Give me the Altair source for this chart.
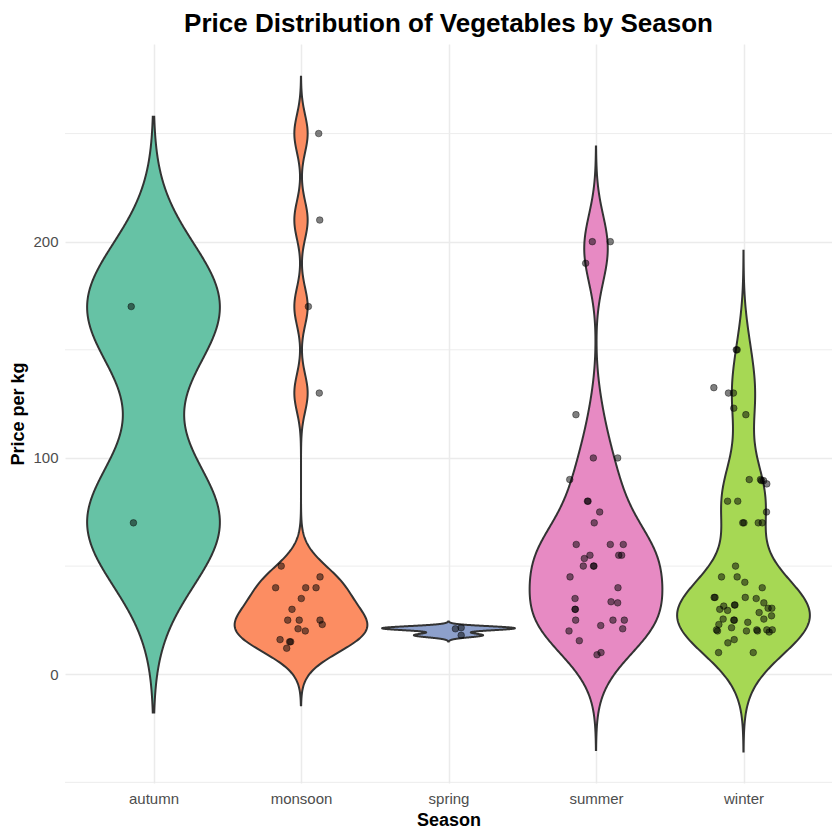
import altair as alt
import numpy as np
import pandas as pd

# ---------------- data ----------------
seasons = ["autumn", "monsoon", "spring", "summer", "winter"]
fill_colors = ["#66C2A5", "#FC8D62", "#8DA0CB", "#E78AC3", "#A6D854"]

autumn_price = [170, 70]
autumn_jitter = [-0.151, -0.136]

monsoon_price = [250, 210, 170, 130, 50, 45, 40, 40, 40, 35, 30, 25, 25, 25,
                 23, 21, 20, 16, 15, 15, 12]
monsoon_jitter = [0.12, 0.127, 0.05, 0.124, -0.134, 0.129, -0.172, 0.032, 0.102,
                  0.002, -0.061, -0.09, -0.012, 0.129, 0.144, -0.02, 0.029,
                  -0.142, -0.07, -0.077, -0.097]

spring_price = [21, 21.5, 18]
spring_jitter = [0.047, 0.086, 0.086]

summer_price = [200, 200, 190, 120, 100, 100, 90, 80, 80, 75, 70, 60, 60, 60,
                55, 53.5, 55, 55, 50, 50, 50, 45, 40, 35, 33.5, 33, 30, 30,
                25, 25, 25, 20, 22.5, 21, 15.5, 9, 10]
summer_jitter = [-0.025, 0.097, -0.07, -0.136, -0.018, 0.147, -0.178, -0.054,
                 -0.058, 0.025, -0.012, -0.134, 0.097, 0.185, -0.041, -0.079,
                 0.154, 0.174, -0.086, -0.014, -0.017, -0.176, 0.149, -0.142,
                 0.102, 0.147, -0.14, -0.142, -0.138, 0.115, 0.192, -0.183,
                 0.032, 0.181, -0.113, 0.007, 0.034]

winter_price = [150, 150, 132.5, 130, 130, 123, 120, 90, 90, 89.5, 89.5, 88,
                80, 80, 75, 70, 70, 70, 70, 50, 45, 45, 42.5, 40, 35.5, 35.5,
                35.5, 35, 33, 31.5, 32, 32, 30, 29.5, 30.5, 30.5, 28.5, 27,
                25.5, 25, 25, 25.5, 24, 23, 21.5, 20.5, 20, 20, 20.5, 20, 20.5,
                19.5, 20.5, 16, 14.5, 10, 10]
winter_jitter = [-0.049, -0.043, -0.201, -0.102, -0.068, -0.066, 0.016, 0.039,
                 0.115, 0.122, 0.136, 0.158,
                 -0.108, -0.039, 0.156, -0.005, 0.003, 0.1, 0.127, -0.054,
                 -0.149, -0.043, 0.009, 0.127, -0.199, -0.193, 0.012, 0.086,
                 0.138, -0.134, -0.061, -0.058, -0.161, -0.108, 0.167, 0.192,
                 0.106, 0.19, -0.138, -0.066, -0.062, 0.138, 0.029, -0.167,
                 -0.081, -0.183, -0.176, 0.02, 0.09, 0.095, 0.158, 0.174, 0.195,
                 -0.063, -0.106, -0.169, 0.066]

y_major = [0, 100, 200]
y_minor = [-50, 50, 150, 250]

prices = [autumn_price, monsoon_price, spring_price, summer_price, winter_price]
jitters = [autumn_jitter, monsoon_jitter, spring_jitter, summer_jitter, winter_jitter]

# ---------------- table ----------------
rows = []
for i, (s, p, j) in enumerate(zip(seasons, prices, jitters)):
    for pv, jv in zip(p, j):
        rows.append({"season": s, "idx": i + 1, "price": pv, "jitter": jv})
df = pd.DataFrame(rows)
minor_df = pd.DataFrame({"v": y_minor})


def bw_nrd0(x):
    x = np.asarray(x, dtype=float)
    sd = np.std(x, ddof=1)
    iqr = np.subtract(*np.percentile(x, [75, 25]))
    lo = min(sd, iqr / 1.34)
    if lo == 0:
        lo = sd or abs(x[0]) or 1
    return 0.9 * lo * len(x) ** (-0.2)


FONT = "Liberation Sans"
label_expr = "[" + ",".join("'%s'" % s for s in seasons) + "][datum.value - 1]"

xscale = alt.Scale(domain=[0.4, 5.6], nice=False, zero=False)
yscale = alt.Scale(domain=[-50.3, 291.4], nice=False, zero=False)

xaxis = alt.Axis(values=[1, 2, 3, 4, 5], labelExpr=label_expr, grid=True,
                 gridColor="#EBEBEB", gridWidth=1.5, domain=False, ticks=False,
                 labelColor="#4D4D4D", labelFontSize=15, labelFont=FONT,
                 labelPadding=8, titleFont=FONT, titleFontSize=18,
                 titleFontWeight="bold", titleColor="black", titlePadding=5)
yaxis = alt.Axis(values=y_major, grid=True, gridColor="#EBEBEB", gridWidth=1.5,
                 domain=False, ticks=False, labelColor="#4D4D4D",
                 labelFontSize=15, labelFont=FONT, labelPadding=7,
                 titleFont=FONT, titleFontSize=18, titleFontWeight="bold",
                 titleColor="black", titlePadding=5)


def X(field):
    return alt.X(field, type="quantitative", scale=xscale, axis=xaxis,
                 title="Season", stack=False)


def Y(field):
    return alt.Y(field, type="quantitative", scale=yscale, axis=yaxis,
                 title="Price per kg")


layers = []
minor = alt.Chart(minor_df).mark_rule(color="#EBEBEB", strokeWidth=0.9).encode(
    y=Y("v")
)
layers.append(minor)

for i, (s, p) in enumerate(zip(seasons, prices)):
    bw = bw_nrd0(p)
    lo, hi = min(p) - 3 * bw, max(p) + 3 * bw
    area = (
        alt.Chart(df)
        .transform_filter(alt.datum.season == s)
        .transform_density("price", groupby=["season"], bandwidth=bw,
                           extent=[lo, hi], steps=512, as_=["price", "density"])
        .transform_joinaggregate(maxd="max(density)")
        .transform_calculate(
            xl=f"{i + 1} - 0.45 * datum.density / datum.maxd",
            xr=f"{i + 1} + 0.45 * datum.density / datum.maxd",
        )
        .mark_area(orient="horizontal", fill=fill_colors[i], stroke="#333333",
                   strokeWidth=2, opacity=1)
        .encode(y=Y("price"), x=X("xl"), x2="xr:Q")
    )
    layers.append(area)

points = (
    alt.Chart(df)
    .transform_calculate(xpos="datum.idx + datum.jitter")
    .mark_circle(size=44, fill="black", fillOpacity=0.5, stroke="black",
                 strokeOpacity=0.5, strokeWidth=0.8)
    .encode(x=X("xpos"), y=Y("price"))
)
layers.append(points)

chart = (
    alt.layer(*layers)
    .properties(
        width=767, height=739,
        title=alt.TitleParams("Price Distribution of Vegetables by Season",
                              font=FONT, fontSize=26, fontWeight="bold",
                              color="black", anchor="middle", frame="group",
                              offset=7),
        autosize=alt.AutoSizeParams(type="none"),
        padding={"left": 57, "top": 36, "right": 0, "bottom": 49},
        background="white",
    )
    .configure_view(stroke=None)
)

chart.save("out.html", embed_options={"renderer": "svg", "actions": False})
